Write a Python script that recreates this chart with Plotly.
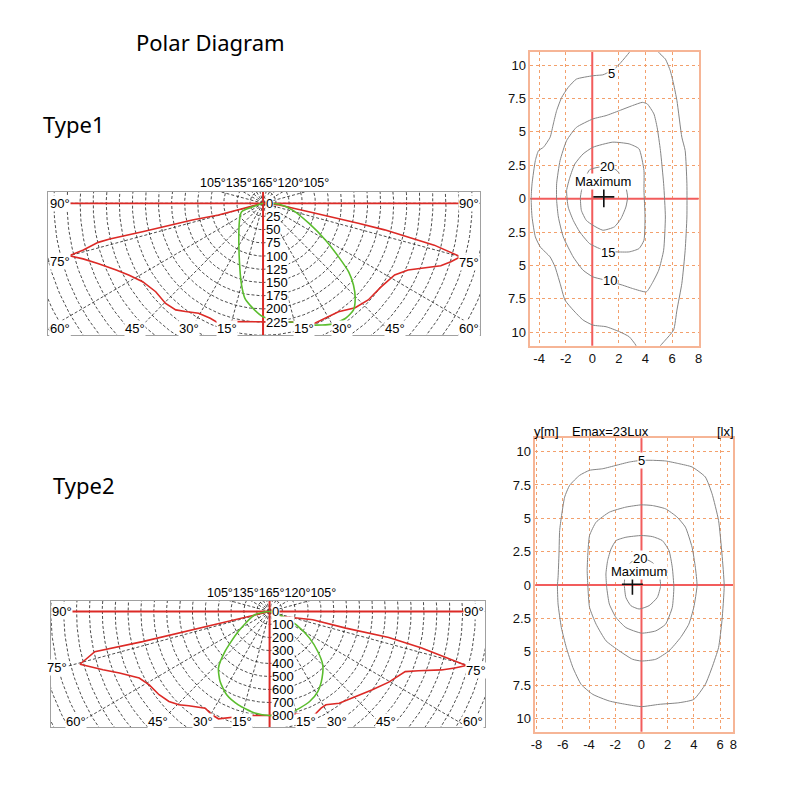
import numpy as np
import plotly.graph_objects as go

W = H = 790

# ---------------- Type1 polar diagram (angle from nadir in deg, negative = left half) ----------------
t1_red_ang = [-75.3, -75.3, -75.4, -76.9, -76.7, -76.9, -77.0, -76.8, -75.6, -75.0,
              -73.0, -70.2, -65.8, -62.0, -57.2, -50.8, -44.5, -39.6, -35.9, -30.6,
              -24.9, -21.4, -14.2, 0.0, 14.0, 22.3, 28.7, 35.1, 41.7, 47.7,
              55.1, 61.7, 65.5, 68.4, 70.8, 72.9, 75.0, 76.4, 77.1, 77.8,
              78.3, 79.1, 79.7, 84.0, 90.0]
t1_red_val = [0, 42, 88, 139, 185, 237, 301, 324, 355, 384,
              360, 336, 308, 290, 274, 265, 266, 262, 253, 242,
              240, 242, 231, 224, 232, 248, 248, 251, 265, 272,
              276, 286, 305, 332, 360, 376, 391, 337, 284, 238,
              186, 134, 89, 31, 0]
t1_grn_ang = [-68.8, -68.8, -57.3, -37.6, -19.8, -14.9, -11.0, -6.5, 0.0, 11.7,
              14.7, 22.2, 29.9, 35.8, 40.6, 44.4, 48.2, 51.6, 55.0, 59.8,
              66.6, 77.2, 86.5, 90.0]
t1_grn_val = [0, 44, 53, 76, 131, 160, 183, 197, 215, 229,
              233, 249, 264, 269, 266, 252, 232, 209, 176, 138,
              96, 58, 31, 15]
t1_axis_len = 380
t1_radial_ticks = [0, 25, 50, 75, 100, 125, 150, 175, 200, 225]
t1_ring_step = 25

# ---------------- Type2 polar diagram ----------------
t2_red_ang = [-76.7, -76.7, -76.8, -76.8, -77.2, -74.6, -70.9, -67.9, -63.2, -58.9,
              -53.3, -48.5, -44.5, -40.9, -33.9, -29.4, -25.7, -19.9, -11.7, 0.0,
              14.8, 19.6, 22.6, 28.3, 31.4, 37.5, 45.7, 53.0, 59.6, 66.3,
              68.5, 71.4, 73.2, 74.8, 76.6, 77.8, 77.8, 79.2, 70.0, 70.0]
t2_red_val = [0, 277, 619, 1014, 1393, 1528, 1370, 1259, 1135, 1092,
              1071, 1044, 1006, 959, 896, 912, 916, 867, 817, 800,
              814, 849, 875, 844, 841, 889, 936, 1000, 1074, 1151,
              1244, 1409, 1503, 1584, 1215, 948, 606, 342, 112, 0]
t2_grn_ang = [-77.6, -77.6, -57.7, -48.4, -42.4, -35.5, -27.5, -18.7, -8.4, 0.0,
              13.3, 17.5, 24.2, 31.3, 38.5, 45.2, 50.6, 56.6, 63.8, 70.0, 70.0]
t2_grn_val = [0, 118, 288, 463, 589, 662, 722, 758, 790, 800,
              791, 779, 759, 721, 655, 582, 485, 372, 232, 112, 0]
t2_axis_len = 1540
t2_radial_ticks = [0, 100, 200, 300, 400, 500, 600, 700, 800]
t2_ring_step = 100

angle_labels = ["15°", "30°", "45°", "60°"]
top_angle_text = "105°135°165°120°105°"

# ---------------- Isolux plot 1 (x[m], y[m]) ----------------
c1_5a_x = [3.0, 2.78, 2.16, 1.79, 1.04, 0.80, 0.05, -1.19, -1.81, -2.30, -2.68, -2.93, -3.17, -3.67,
           -4.04, -4.28, -4.53, -4.60, -4.53, -4.28, -3.91, -3.17, -2.80, -2.42, -2.05, -1.43,
           -0.69, 0.05, 1.04, 2.04, 2.78, 3.27, 3.4]
c1_5a_y = [11.3, 10.94, 10.2, 9.82, 9.37, 9.27, 9.2, 8.95, 8.33, 7.58, 6.59, 5.59, 4.6, 3.85,
           3.6, 2.86, 1.12, 0.0, -1.37, -2.86, -3.61, -4.36, -5.1, -6.34, -7.59, -8.34,
           -9.08, -9.46, -9.58, -9.95, -10.33, -10.95, -11.3]
c1_5b_x = [4.9, 5.01, 5.5, 5.87, 6.12, 6.37, 6.74, 6.99, 7.12, 7.12, 6.99, 6.74, 6.37, 6.12, 5.5, 5.13, 5.0]
c1_5b_y = [11.3, 10.94, 10.45, 9.57, 8.58, 7.34, 4.6, 3.6, 1.12, -1.37, -3.86, -6.34, -8.34, -9.83, -10.58, -11.0, -11.3]
c1_10_x = [0.05, -1.19, -1.93, -2.42, -2.68, -2.68, -2.55, -2.18, -1.43, -0.69, 0.05, 0.80, 2.28, 3.03,
           4.07, 4.5, 5.0, 5.37, 5.5, 5.37, 5.13, 4.88, 4.64, 4.14, 3.77, 3.03, 2.04, 1.04, 0.05]
c1_10_y = [5.97, 5.34, 4.35, 2.86, 1.12, -0.12, -1.37, -2.86, -4.36, -5.35, -5.85, -6.05, -6.47, -6.72,
           -6.97, -6.34, -5.35, -3.86, -1.37, 1.12, 3.6, 5.34, 6.34, 7.09, 7.21, 6.97, 6.59, 6.22, 5.97]
c1_15_x = [0.05, -0.69, -1.31, -1.68, -1.93, -1.81, -1.43, -0.94, -0.2, 0.55, 1.17, 1.79, 2.78, 3.52,
           3.89, 3.97, 3.89, 3.89, 3.52, 2.78, 1.54, 0.05]
c1_15_y = [3.85, 3.35, 2.6, 1.61, 0.61, -0.63, -1.62, -2.49, -3.36, -3.73, -3.93, -3.98, -3.98, -3.73,
           -3.11, -1.37, 0.61, 2.11, 3.73, 4.1, 4.23, 3.85]
c1_20_x = [0.8, -0.2, -0.69, -0.89, -0.82, -0.45, 0.05, 0.8, 1.66, 2.16, 2.53, 2.66, 2.53, 2.16, 1.79, 0.8]
c1_20_y = [2.4, 2.16, 1.12, 0.12, -0.87, -1.62, -1.99, -2.36, -2.11, -1.49, -0.62, 0.12, 0.86, 1.73, 2.16, 2.4]
c1_max_xy = [0.87, 0.14]

# ---------------- Isolux plot 2 ----------------
c2_5_x = [0, -0.93, -1.94, -2.95, -3.96, -4.72, -5.48, -5.86, -6.11, -6.24, -6.29, -6.36, -6.41, -6.36,
          -6.11, -5.73, -5.23, -4.6, -3.71, -2.45, -1.19, 0.0, 1.34, 2.85, 3.99, 4.87, 5.38, 5.88,
          6.14, 6.31, 6.14, 5.88, 5.38, 4.87, 3.86, 2.85, 1.84, 0.83, 0]
c2_5_y = [9.35, 9.22, 8.97, 8.72, 8.6, 8.22, 7.47, 6.59, 5.09, 4.09, 2.33, 0.58, -0.05, -1.43,
          -3.19, -4.69, -6.19, -7.45, -8.2, -8.7, -8.95, -9.12, -8.95, -8.83, -8.58, -7.45, -6.19, -4.69,
          -2.68, -0.05, 2.33, 4.84, 6.85, 8.1, 8.85, 9.1, 9.3, 9.35, 9.35]
c2_10_x = [0, -1.19, -2.45, -3.46, -3.96, -4.09, -4.14, -4.09, -3.96, -3.46, -2.7, -1.69, -0.68, 0,
           1.09, 2.1, 2.98, 3.61, 3.99, 4.24, 4.11, 3.86, 3.35, 2.72, 1.84, 0.83, 0]
c2_10_y = [6.01, 5.84, 5.46, 4.71, 3.71, 2.33, 1.08, -0.05, -1.68, -2.94, -4.19, -4.94, -5.57, -5.7,
           -5.57, -4.94, -3.94, -2.94, -1.68, -0.05, 1.33, 2.83, 4.34, 5.09, 5.71, 5.96, 6.01]
c2_15_x = [0, -1.19, -1.94, -2.32, -2.58, -2.71, -2.65, -2.45, -1.94, -1.19, 0, 1.09, 1.84, 2.35,
           2.47, 2.35, 2.1, 1.59, 0.83, 0]
c2_15_y = [3.71, 3.58, 3.33, 2.7, 1.83, 0.83, -0.18, -1.43, -2.44, -3.19, -3.61, -3.44, -2.94, -1.68,
           -0.18, 1.33, 2.58, 3.33, 3.63, 3.71]
c2_20_x = [-0.05, -0.81, -1.19, -1.31, -1.19, -0.81, -0.18, 0.58, 1.21, 1.46, 1.34, 0.96, 0.58, -0.05]
c2_20_y = [2.0, 1.7, 1.08, 0.08, -0.93, -1.55, -1.8, -1.55, -0.93, -0.05, 0.83, 1.58, 1.83, 2.0]
c2_max_xy = [-0.69, 0.06]

iso_y_ticks = [-10, -7.5, -5, -2.5, 0, 2.5, 5, 7.5, 10]
iso_y_text = ["10", "7.5", "5", "2.5", "0", "2.5", "5", "7.5", "10"]
iso1_x_ticks = [-4, -2, 0, 2, 4, 6, 8]
iso1_x_text = ["-4", "-2", "0", "2", "4", "6", "8"]
iso2_x_ticks = [-8, -6, -4, -2, 0, 2, 4, 6, 7]
iso2_x_text = ["-8", "-6", "-4", "-2", "0", "2", "4", "6", "8"]

# ---------------- styling ----------------
RED = "#dc2a26"
GREEN = "#5bbd2e"
XRED = "#f25c5c"
ORANGE = "#f6b596"
GRID_OR = "#f3a06c"
CGREY = "#858585"
LF = "Liberation Sans, Arial, sans-serif"
TF = "Noto Sans, sans-serif"


def pol(ang, val):
    a = np.radians(np.asarray(ang, dtype=float))
    v = np.asarray(val, dtype=float)
    return v * np.sin(a), -v * np.cos(a)


def polar_grid(step, nrings, rspoke):
    xs, ys = [], []
    t = np.linspace(0, 2 * np.pi, 361)
    for i in range(1, nrings + 1):
        r = i * step
        xs += list(r * np.sin(t)) + [None]
        ys += list(-r * np.cos(t)) + [None]
    for a in range(0, 360, 15):
        ar = np.radians(a)
        xs += [0, rspoke * np.sin(ar), None]
        ys += [0, -rspoke * np.cos(ar), None]
    return xs, ys


fig = go.Figure()
annotations = []


def ann(text, x, y, size=13, xanchor="center", bg=None, family=LF, xref="paper", yref="paper", color="#000"):
    if xref == "paper":
        x = x / W
    if yref == "paper":
        y = 1 - y / H
    d = dict(text=text, x=x, y=y, xref=xref, yref=yref, showarrow=False, xanchor=xanchor,
             yanchor="middle", font=dict(family=family, size=size, color=color))
    if bg:
        d.update(bgcolor=bg, borderpad=0)
    annotations.append(d)


# panel geometry (pixels)
panels = [
    dict(box=(44, 192, 481, 335), c=(261.7, 203.3), k=0.528, ax="", step=t1_ring_step,
         red=(t1_red_ang, t1_red_val), grn=(t1_grn_ang, t1_grn_val), alen=t1_axis_len,
         rt=t1_radial_ticks, toplab=(263, 183),
         side=[("90°", 45, 203.3, "left"), ("75°", 45, 261.7, "left"), ("60°", 45, 328.3, "left"),
               ("90°", 481, 203.3, "right"), ("75°", 481, 262.3, "right"), ("60°", 481, 328.3, "right")],
         bottom=[(225, 303), (186.5, 341), (132, 395)], by=328),
    dict(box=(47, 601, 486, 727), c=(268.3, 611.5), k=0.13, ax="2", step=t2_ring_step,
         red=(t2_red_ang, t2_red_val), grn=(t2_grn_ang, t2_grn_val), alen=t2_axis_len,
         rt=t2_radial_ticks, toplab=(270.7, 593.3),
         side=[("90°", 47, 611, "left"), ("75°", 42, 667.7, "left"),
               ("90°", 486, 611.7, "right"), ("75°", 488, 670, "right")],
         bottom=[(240, 305), (201, 336), (156, 386), (73, 474)], by=721.7),
]

layout_axes = {}
for p in panels:
    L, T, R, B = p["box"]
    cx, cy = p["c"]
    k = p["k"]
    xr = [(L - cx) / k, (R - cx) / k]
    yr = [-(B - cy) / k, (cy - T) / k]
    xa, ya = "x" + p["ax"], "y" + p["ax"]
    gx, gy = polar_grid(p["step"], 21, 5000)
    fig.add_trace(go.Scatter(x=gx, y=gy, xaxis=xa, yaxis=ya, mode="lines", hoverinfo="skip",
                             line=dict(color="#1e1e1e", width=0.8, dash="3px,2px")))
    # red reference axes
    fig.add_trace(go.Scatter(x=[-p["alen"], p["alen"]], y=[0, 0], xaxis=xa, yaxis=ya, mode="lines",
                             line=dict(color=RED, width=1.8), hoverinfo="skip"))
    fig.add_trace(go.Scatter(x=[0, 0], y=[yr[0] * 1.1, yr[1] * 1.1], xaxis=xa, yaxis=ya, mode="lines",
                             line=dict(color=RED, width=2), hoverinfo="skip"))
    rx, ry = pol(*p["red"])
    fig.add_trace(go.Scatter(x=rx, y=ry, xaxis=xa, yaxis=ya, mode="lines",
                             line=dict(color=RED, width=1.6), hoverinfo="skip"))
    gx2, gy2 = pol(*p["grn"])
    fig.add_trace(go.Scatter(x=gx2, y=gy2, xaxis=xa, yaxis=ya, mode="lines",
                             line=dict(color=GREEN, width=1.6, shape="spline", smoothing=0.6), hoverinfo="skip"))
    axcommon = dict(showgrid=False, zeroline=False, showticklabels=False, ticks="",
                    showline=True, mirror=True, linecolor="#a0a0a0", linewidth=1, fixedrange=True)
    layout_axes["xaxis" + p["ax"]] = dict(axcommon, range=xr, domain=[L / W, R / W], anchor=ya)
    layout_axes["yaxis" + p["ax"]] = dict(axcommon, range=yr, domain=[1 - B / H, 1 - T / H], anchor=xa)
    # radial labels
    for v in p["rt"]:
        ann(str(v), cx + 1.5, cy + v * k, size=13, xanchor="left", bg="white")
    # side labels
    for txt, x, y, xa_ in p["side"]:
        ann(txt, x, y, size=13, xanchor=xa_, bg="white")
    # bottom angle labels
    for lab, (xl, xrr) in zip(angle_labels, p["bottom"]):
        ann(lab, xl, p["by"], size=13, bg="white")
        ann(lab, xrr, p["by"], size=13, bg="white")
    if len(p["bottom"]) < 4:
        ann("60°", 45, p["by"], size=13, xanchor="left", bg="white")
        ann("60°", 481, p["by"], size=13, xanchor="right", bg="white")
    ann(top_angle_text, p["toplab"][0], p["toplab"][1], size=12.5)

# ---------------- isolux plots ----------------
iso = [
    dict(ax="3", dom=(531.7, 51.7, 701.7, 345.7), xr=[-4.66, 8], xt=(iso1_x_ticks, iso1_x_text),
         open_lines=[(c1_5a_x, c1_5a_y), (c1_5b_x, c1_5b_y)],
         closed=[(c1_10_x, c1_10_y), (c1_15_x, c1_15_y), (c1_20_x, c1_20_y)],
         mx=c1_max_xy,
         labels=[("5", 1.42, 9.4), ("15", 1.17, -4.0), ("10", 1.35, -6.1), ("20", 1.1, 2.4),
                 ("Maximum", 0.8, 1.3)]),
    dict(ax="4", dom=(536.7, 438.3, 736.7, 731.7), xr=[-8.1, 7], xt=(iso2_x_ticks, iso2_x_text),
         open_lines=[], closed=[(c2_5_x, c2_5_y), (c2_10_x, c2_10_y), (c2_15_x, c2_15_y), (c2_20_x, c2_20_y)],
         mx=c2_max_xy,
         labels=[("5", 0.0, 9.3), ("20", -0.1, 2.0), ("Maximum", -0.15, 1.0)]),
]
for q in iso:
    xa, ya = "x" + q["ax"], "y" + q["ax"]
    L, T, R, B = q["dom"]
    fig.add_trace(go.Scatter(x=[q["xr"][0] - 1, q["xr"][1] + 1], y=[0, 0], xaxis=xa, yaxis=ya, mode="lines",
                             line=dict(color=XRED, width=2), hoverinfo="skip"))
    fig.add_trace(go.Scatter(x=[0, 0], y=[-12, 12], xaxis=xa, yaxis=ya, mode="lines",
                             line=dict(color=XRED, width=2), hoverinfo="skip"))
    for lx, ly in q["open_lines"] + q["closed"]:
        fig.add_trace(go.Scatter(x=lx, y=ly, xaxis=xa, yaxis=ya, mode="lines",
                                 line=dict(color=CGREY, width=1, shape="spline", smoothing=0.5),
                                 hoverinfo="skip"))
    for txt, x, y in q["labels"]:
        ann(txt, x, y, size=13, bg="white", xref=xa, yref=ya)
    fig.add_trace(go.Scatter(x=[q["mx"][0]], y=[q["mx"][1]], xaxis=xa, yaxis=ya, mode="markers",
                             marker=dict(symbol="cross-thin", size=15, line=dict(color="#111", width=1.6)),
                             hoverinfo="skip"))
    common = dict(showgrid=True, gridcolor=GRID_OR, griddash="dot", gridwidth=1, zeroline=False,
                  showline=True, mirror=True, linecolor=ORANGE, linewidth=1.5, ticks="",
                  tickfont=dict(family=LF, size=13, color="#111"), fixedrange=True)
    layout_axes["xaxis" + q["ax"]] = dict(common, range=q["xr"], tickvals=q["xt"][0], ticktext=q["xt"][1],
                                          domain=[L / W, R / W], anchor=ya)
    layout_axes["yaxis" + q["ax"]] = dict(common, range=[-11, 11], tickvals=iso_y_ticks, ticktext=iso_y_text,
                                          domain=[1 - B / H, 1 - T / H], anchor=xa)

ann("y[m]", 548, 431.7, size=13)
ann("Emax=23Lux", 612.5, 431.7, size=13)
ann("[lx]", 739, 431.7, size=13, xanchor="right")

# titles
ann("Polar Diagram", 209, 42, size=22, family=TF)
ann("Type1", 37, 124, size=22, family=TF, xanchor="left")
ann("Type2", 47, 485, size=22, family=TF, xanchor="left")

fig.update_layout(width=W, height=H, autosize=False, margin=dict(l=0, r=0, t=0, b=0),
                  paper_bgcolor="white", plot_bgcolor="white", showlegend=False,
                  annotations=annotations, **layout_axes)

fig.write_html("out.html", config={"displayModeBar": False},
               post_script="document.body.style.margin='0';")
